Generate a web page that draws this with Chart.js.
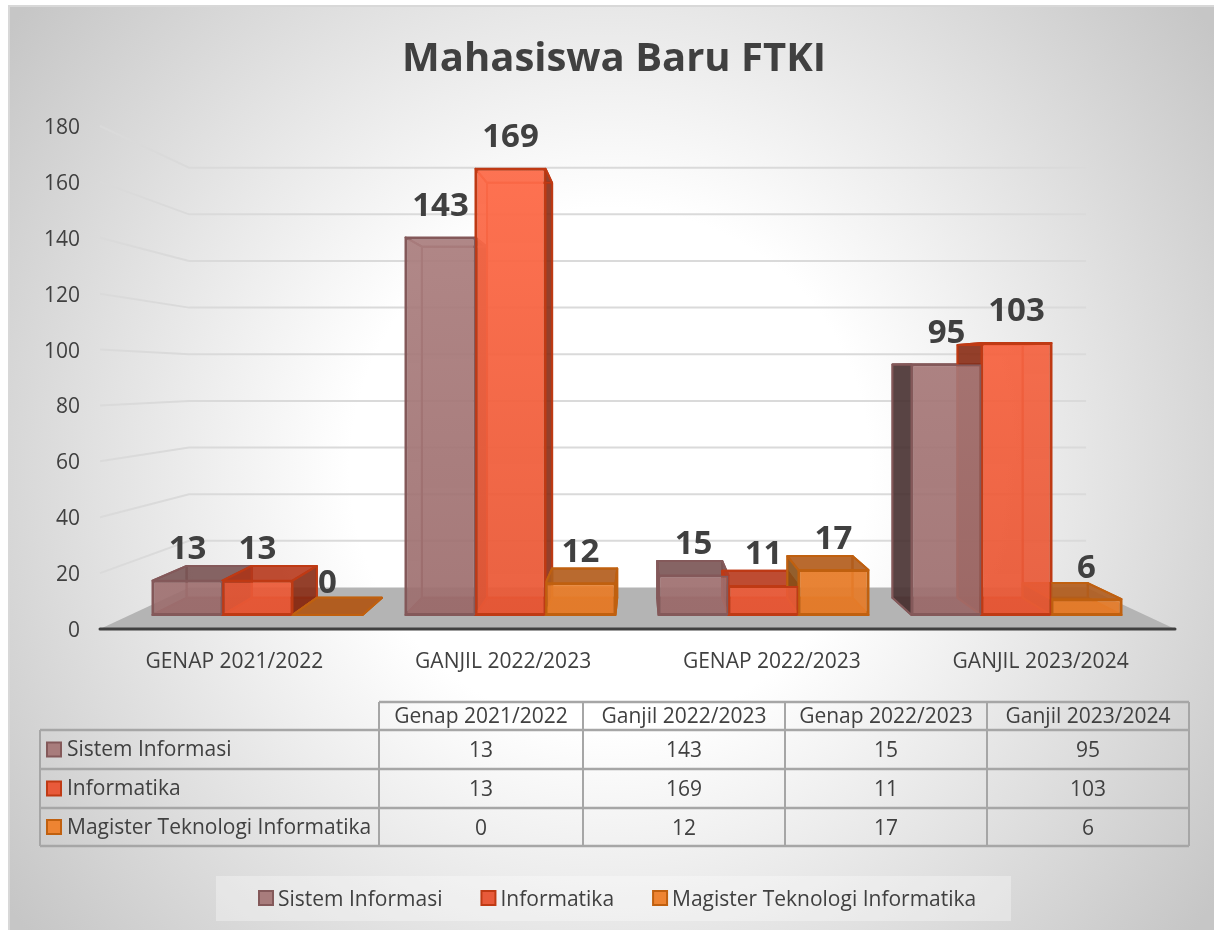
<!DOCTYPE html>
<html>
<head>
<meta charset="utf-8">
<title>Mahasiswa Baru FTKI</title>
<script src="https://cdn.jsdelivr.net/npm/chart.js"></script>
<style>
  html, body { margin: 0; padding: 0; background: #fff; }
  #frame {
    position: absolute; left: 8px; top: 5px; width: 1206px; height: 925px;
    box-sizing: border-box; border: 2px solid #d8d8d8; border-right: none; border-bottom: none;
    background: radial-gradient(circle 745px at 600px 461px, #ffffff 260px, #c6c6c6 745px);
  }
  #myChart { position: absolute; left: 0; top: 0; }
</style>
</head>
<body>
<div id="frame"></div>
<canvas id="myChart" width="1214" height="930"></canvas>
<script>
// data
const categories = ['Genap 2021/2022', 'Ganjil 2022/2023', 'Genap 2022/2023', 'Ganjil 2023/2024'];
const seriesNames = ['Sistem Informasi', 'Informatika', 'Magister Teknologi Informatika'];
const sistemInformasi = [13, 143, 15, 95];
const informatika = [13, 169, 11, 103];
const magister = [0, 12, 17, 6];
const yTicks = [0, 20, 40, 60, 80, 100, 120, 140, 160, 180];

const FONT = '"Open Sans"';
const TEXT = '#404040';

// colours per series. side = outside of the front face, inner = seen through it
const skins = [
  { hi: 'rgba(174,130,130,0.9)', lo: 'rgba(158,110,110,0.88)', edge: '#84595a', back: 'rgba(150,110,110,0.4)', side: 'rgba(72,50,50,0.88)', inner: 'rgba(72,50,50,0.22)', top: 'rgba(120,84,84,0.85)', swatch: '#a87c7c' },
  { hi: 'rgba(255,108,74,0.93)', lo: 'rgba(232,88,54,0.9)', edge: '#bf3a14', back: 'rgba(230,90,50,0.4)', side: 'rgba(130,42,20,0.85)', inner: 'rgba(130,42,20,0.22)', top: 'rgba(180,56,28,0.85)', swatch: '#e85a3a' },
  { hi: 'rgba(244,138,56,0.9)', lo: 'rgba(230,124,42,0.92)', edge: '#c0600f', back: 'rgba(220,120,40,0.4)', side: 'rgba(130,76,24,0.85)', inner: 'rgba(130,76,24,0.22)', top: 'rgba(176,92,30,0.88)', swatch: '#ee8432' }
];

// the fake 3D: boxes go back towards a vanishing point
const DEPTH = 0.93, VP_X = 640, VP_Y = 370;
const backPt = (x, y) => [VP_X + (x - VP_X) * DEPTH, VP_Y + (y - VP_Y) * DEPTH];

// the wall and floor shrink a bit more than the boxes do
const WALL = 0.8345, WALL_X = 638, WALL_Y = 378;
const wallPt = (x, y) => [WALL_X + (x - WALL_X) * WALL, WALL_Y + (y - WALL_Y) * WALL];

function poly(ctx, pts, fill, stroke, w) {
  ctx.beginPath();
  pts.forEach((p, i) => i ? ctx.lineTo(p[0], p[1]) : ctx.moveTo(p[0], p[1]));
  ctx.closePath();
  if (fill) { ctx.fillStyle = fill; ctx.fill(); }
  if (stroke) { ctx.strokeStyle = stroke; ctx.lineWidth = w || 2; ctx.stroke(); }
}

function swatch(ctx, x, y, i) {
  ctx.fillStyle = skins[i].swatch;
  ctx.strokeStyle = skins[i].edge;
  ctx.lineWidth = 2;
  ctx.fillRect(x, y, 14, 14);
  ctx.strokeRect(x, y, 14, 14);
}

function drawBoxes(chart, index) {
  const ctx = chart.ctx, skin = skins[index];
  ctx.save();
  ctx.lineJoin = 'round';
  chart.getDatasetMeta(index).data.forEach(bar => {
    const p = bar.getProps(['x', 'y', 'width', 'base'], true);
    const l = p.x - p.width / 2, r = p.x + p.width / 2, t = p.y, b = p.base;
    const bl = backPt(l, b), br = backPt(r, b), tl = backPt(l, t), tr = backPt(r, t);
    poly(ctx, [tl, tr, br, bl], skin.back, skin.edge);
    poly(ctx, [[l, b], bl, br, [r, b]], skin.top, skin.edge);
    poly(ctx, [[l, t], tl, bl, [l, b]], bl[0] < l ? skin.side : skin.inner, skin.edge);
    poly(ctx, [[r, t], tr, br, [r, b]], br[0] > r ? skin.side : skin.inner, skin.edge);
    poly(ctx, [[l, t], tl, tr, [r, t]], tl[1] < t ? skin.top : skin.inner, skin.edge);
  });
  ctx.restore();
}

const floorAndWall = {
  id: 'floorAndWall',
  beforeDatasetsDraw(chart) {
    const ctx = chart.ctx, y = chart.scales.y, a = chart.chartArea;
    const base = y.getPixelForValue(0);
    ctx.save();
    // floor
    const fl = wallPt(a.left, base), fr = wallPt(a.right, base);
    poly(ctx, [[a.left, base], fl, fr, [a.right, base]], '#b4b4b4');
    // gridlines, side wall then back wall
    ctx.strokeStyle = '#dadada';
    ctx.lineWidth = 2;
    yTicks.filter(v => v > 0).forEach(v => {
      const py = y.getPixelForValue(v);
      const p0 = wallPt(a.left, py), p1 = wallPt(a.right, py);
      ctx.beginPath();
      ctx.moveTo(a.left, py);
      ctx.lineTo(p0[0], p0[1]);
      ctx.lineTo(p1[0], p1[1]);
      ctx.stroke();
    });
    ctx.restore();
  },
  // all the box insides go first, then every front face (the real bars) on top
  beforeDatasetDraw() { return false; },
  afterDatasetsDraw(chart) {
    const ctx = chart.ctx, a = chart.chartArea, y = chart.scales.y;
    chart.data.datasets.forEach((d, i) => drawBoxes(chart, i));
    chart.data.datasets.forEach((d, i) => chart.getDatasetMeta(i).controller.draw());
    ctx.save();
    // base line
    ctx.strokeStyle = TEXT;
    ctx.lineWidth = 3;
    ctx.lineCap = 'round';
    ctx.beginPath();
    ctx.moveTo(a.left, y.getPixelForValue(0));
    ctx.lineTo(a.right, y.getPixelForValue(0));
    ctx.stroke();
    // value labels
    ctx.fillStyle = TEXT;
    ctx.font = 'bold 33px ' + FONT;
    ctx.textAlign = 'center';
    ctx.textBaseline = 'middle';
    chart.data.datasets.forEach((ds, i) => {
      chart.getDatasetMeta(i).data.forEach((bar, j) => {
        const p = bar.getProps(['x', 'y'], true);
        ctx.fillText(String(ds.data[j].y), p.x, p.y - 31);
      });
    });
    ctx.restore();
  }
};

const tableAndLegend = {
  id: 'tableAndLegend',
  afterDraw(chart) {
    const ctx = chart.ctx;
    const colX = [40, 379, 583, 785, 987, 1189];
    const rowY = [702, 730, 769, 808, 846];
    const rows = [sistemInformasi, informatika, magister];
    ctx.save();
    ctx.strokeStyle = '#a6a6a6';
    ctx.lineWidth = 2;
    ctx.beginPath();
    colX.forEach((x, i) => { ctx.moveTo(x, rowY[i === 0 ? 1 : 0]); ctx.lineTo(x, rowY[4]); });
    ctx.stroke();
    ctx.lineWidth = 2.6;
    ctx.beginPath();
    ctx.moveTo(colX[1], rowY[0]);
    ctx.lineTo(colX[5], rowY[0]);
    rowY.slice(1).forEach(y => { ctx.moveTo(colX[0], y); ctx.lineTo(colX[5], y); });
    ctx.stroke();

    ctx.font = '21px ' + FONT;
    ctx.fillStyle = TEXT;
    ctx.textBaseline = 'middle';
    ctx.textAlign = 'center';
    categories.forEach((c, j) => {
      ctx.fillText(c, (colX[j + 1] + colX[j + 2]) / 2, (rowY[0] + rowY[1]) / 2 + 1);
    });
    rows.forEach((vals, i) => {
      const my = (rowY[i + 1] + rowY[i + 2]) / 2;
      swatch(ctx, 47, my - 7, i);
      ctx.fillStyle = TEXT;
      ctx.textAlign = 'left';
      ctx.fillText(seriesNames[i], 67, my + 1);
      ctx.textAlign = 'center';
      vals.forEach((v, j) => ctx.fillText(String(v), (colX[j + 1] + colX[j + 2]) / 2, my + 2));
    });

    // legend
    ctx.fillStyle = 'rgba(255,255,255,0.32)';
    ctx.fillRect(216, 876, 795, 45);
    let x = 258;
    ctx.textAlign = 'left';
    seriesNames.forEach((name, i) => {
      swatch(ctx, x + 1, 891, i);
      ctx.fillStyle = TEXT;
      ctx.fillText(name, x + 20, 900);
      x += 20 + ctx.measureText(name).width + 38;
    });
    ctx.restore();
  }
};

// front face shades from light at the top of the plot to darker at the floor
function frontFill(i) {
  return c => {
    const a = c.chart.chartArea;
    if (!a) return skins[i].swatch;
    const g = c.chart.ctx.createLinearGradient(0, a.top + 40, 0, a.bottom);
    g.addColorStop(0, skins[i].hi);
    g.addColorStop(1, skins[i].lo);
    return g;
  };
}

const ds = (i, values) => ({
  label: seriesNames[i],
  data: values.map((v, k) => ({ x: k, y: v })),
  xAxisID: 'xBars',
  yAxisID: 'yBars',
  backgroundColor: frontFill(i),
  borderColor: skins[i].edge,
  borderWidth: 2,
  borderSkipped: false,
  categoryPercentage: 0.83,
  barPercentage: 1
});

new Chart(document.getElementById('myChart'), {
  type: 'bar',
  data: {
    labels: categories,
    datasets: [ds(0, sistemInformasi), ds(1, informatika), ds(2, magister)]
  },
  plugins: [floorAndWall, tableAndLegend],
  options: {
    responsive: false,
    animation: false,
    layout: { padding: { left: 14, right: 0, top: 0, bottom: 0 } },
    plugins: {
      legend: { display: false },
      tooltip: { enabled: false },
      title: {
        display: true,
        text: 'Mahasiswa Baru FTKI',
        color: TEXT,
        font: { family: FONT, size: 40, weight: 'bold', lineHeight: 1.2 },
        padding: { top: 36, bottom: 42 }
      }
    },
    scales: {
      // visible axes
      x: {
        type: 'category',
        offset: true,
        grid: { display: false, drawTicks: false },
        border: { display: false },
        afterFit(s) { s.height = 301; },
        ticks: {
          autoSkip: false, maxRotation: 0, padding: 20, color: TEXT,
          font: { family: FONT, size: 21 },
          callback(v) { return categories[v].toUpperCase(); }
        }
      },
      y: {
        position: 'left',
        min: 0, max: 180,
        grid: { display: false, drawTicks: false },
        border: { display: false },
        afterFit(s) { s.width = 86; },
        afterBuildTicks(s) { s.ticks = yTicks.map(v => ({ value: v })); },
        ticks: { padding: 20, labelOffset: 2, color: TEXT, font: { family: FONT, size: 21 } }
      },
      // bars sit on the nearer, inset plane of the 3D box
      xBars: {
        type: 'linear', axis: 'x', position: 'bottom', display: false,
        offset: false, grid: { offset: false }, min: -0.6225, max: 3.6265,
        // only one tick per group, the bar width is worked out from tick spacing
        afterBuildTicks(s) { s.ticks = categories.map((c, i) => ({ value: i })); }
      },
      yBars: {
        type: 'linear', axis: 'y', position: 'right', display: false, min: -5.3, max: 185.2,
        afterFit(s) { s.width = 39; }
      }
    }
  }
});
</script>
</body>
</html>
